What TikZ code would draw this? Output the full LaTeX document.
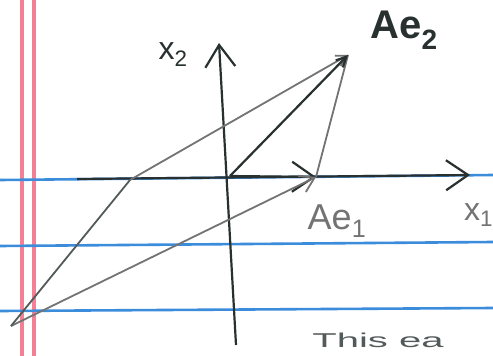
\documentclass[tikz,border=0pt]{standalone}
\usepackage{fontspec}
\setmainfont{Liberation Sans}
\usetikzlibrary{arrows.meta}
\definecolor{paperred}{RGB}{244,128,150}
\definecolor{paperblue}{RGB}{60,140,220}
\definecolor{ink}{RGB}{40,48,48}
\definecolor{pencil}{RGB}{115,115,115}
\tikzset{
  redrule/.style={paperred,line width=3.6pt},
  bluerule/.style={paperblue,line width=2.6pt},
  axis/.style={ink,line width=2.2pt,-{Straight Barb[length=22pt,width=30pt,line width=2.2pt]}},
  darkvec/.style={ink,line width=2.2pt},
  greyvec/.style={pencil,line width=1.8pt},
  lab/.style={inner sep=0pt,font=\fontsize{36}{40}\selectfont}
}
\begin{document}
\begin{tikzpicture}[x=1pt,y=-1pt]
\useasboundingbox[fill=white] (0,0) rectangle (493,356);
% paper rules
\draw[redrule] (22,0) -- (22,356);
\draw[redrule] (34,0) -- (34,356);
\draw[bluerule] (0,180) -- (493,175);
\draw[bluerule] (0,246) -- (493,242);
\draw[bluerule] (0,311) -- (493,308);
% points
\coordinate (O) at (230,176);
\coordinate (E1) at (316,177);
\coordinate (E2) at (348,55);
\coordinate (P) at (130,180);
\coordinate (Q) at (11,326);
\coordinate (X1s) at (77,179);
\coordinate (X1e) at (470,175);
\coordinate (X2s) at (236,345);
\coordinate (X2e) at (219,43);
% axes
\draw[axis] (X1s) -- (X1e);
\draw[axis] (X2s) -- (X2e);
% vectors
\draw[greyvec,-{Straight Barb[length=10pt,width=12pt,line width=1.8pt]}] (P) -- (E2);
\draw[greyvec] (E1) -- (E2);
\draw[darkvec,-{Straight Barb[length=10pt,width=10pt,line width=2.2pt]}] (O) -- (E2);
\draw[darkvec,-{Straight Barb[length=22pt,width=30pt,line width=2.2pt]}] (O) -- (E1);
\draw[greyvec,-{Straight Barb[length=14pt,width=18pt,line width=1.8pt]}] (Q) -- (E1);
\draw[ink!80,line width=1.8pt] (Q) -- (P);
% labels
\node[lab,ink,font=\fontsize{40}{44}\selectfont\bfseries] (lE2) at (404,30) {Ae\textsubscript{2}};
\node[lab,pencil] (lE1) at (337,221) {Ae\textsubscript{1}};
\node[lab,ink,font=\fontsize{32}{36}\selectfont] (lX2) at (173,55) {x\textsubscript{2}};
\node[lab,pencil,font=\fontsize{32}{36}\selectfont,anchor=west] (lX1) at (464,215) {x\textsubscript{1}};
\node[lab,ink!80,anchor=north west,font=\fontsize{20}{22}\selectfont,xscale=2] (txt) at (312,333) {This ea};
\end{tikzpicture}
\end{document}
